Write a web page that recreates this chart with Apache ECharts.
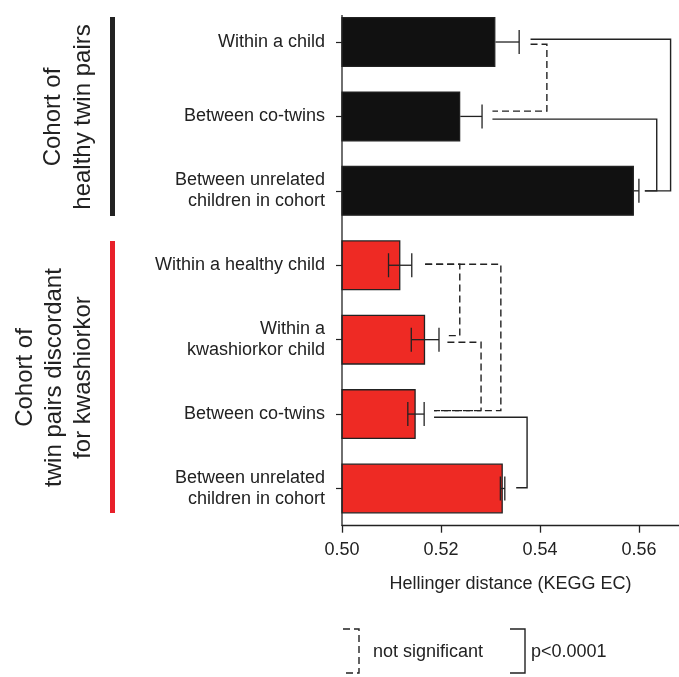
<!DOCTYPE html>
<html><head><meta charset="utf-8">
<script src="https://cdn.jsdelivr.net/npm/echarts@6/dist/echarts.min.js"></script>
<style>html,body{margin:0;padding:0;background:#fff}#c{width:679px;height:677px}</style>
</head><body><div id="c"></div>
<script>
// ---- data ----
const categories = ['Within a child', 'Between co-twins', 'Between unrelated\nchildren in cohort',
  'Within a healthy child', 'Within a\nkwashiorkor child', 'Between co-twins', 'Between unrelated\nchildren in cohort'];
const cohort = ['healthy', 'healthy', 'healthy', 'kwashiorkor', 'kwashiorkor', 'kwashiorkor', 'kwashiorkor'];
const means   = [0.5310, 0.5239, 0.5590, 0.5118, 0.5168, 0.5149, 0.5325];
const errLow  = [0.5262, 0.5195, 0.5580, 0.5094, 0.5140, 0.5133, 0.5320];
const errHigh = [0.5358, 0.5283, 0.5600, 0.5141, 0.5196, 0.5166, 0.5329];
const xTicks = [0.50, 0.52, 0.54, 0.56];
const xMin = 0.50, xMax = 0.5681;
const xTitle = 'Hellinger distance (KEGG EC)';
// significance brackets (category indices and x values)
const bracketFrom  = [0, 1, 0, 3, 3, 4, 5];
const bracketTo    = [2, 2, 1, 4, 5, 5, 6];
const bracketStart = [0.5381, 0.5304, 0.5381, 0.5168, 0.5168, 0.5213, 0.5186];
const bracketTurn  = [0.5664, 0.5636, 0.5414, 0.5238, 0.5321, 0.5281, 0.5374];
const bracketEnd   = [0.5612, 0.5612, 0.5304, 0.5213, 0.5186, 0.5186, 0.5352];
const bracketSignificant = [true, true, false, false, false, false, true];
const groupTitles = { healthy: 'Cohort of\nhealthy twin pairs', kwashiorkor: 'Cohort of\ntwin pairs discordant\nfor kwashiorkor' };
const legendTexts = ['not significant', 'p<0.0001'];

// ---- style ----
const FONT = '"Liberation Sans", Arial, Helvetica, sans-serif';
const INK = '#222';
const COLORS = { healthy: '#111111', kwashiorkor: '#EE2A24' };
const BAR_COLORS = { healthy: '#222222', kwashiorkor: '#E8202A' };
const ONE_SIDED = { healthy: true, kwashiorkor: false };
const BRACKET_DY = [[-2.7, 0], [2.7, 0], [2.3, -5.3], [-1, -4], [-1, -3.5], [2.6, -3.5], [3.1, -0.8]];
const DASH = [7, 4];

const chart = echarts.init(document.getElementById('c'), null, { renderer: 'canvas' });

const barData = means.map((v, i) => ({ value: v, itemStyle: { color: COLORS[cohort[i]] } }));
const errData = means.map((v, i) => [i, errLow[i], errHigh[i], v, ONE_SIDED[cohort[i]] ? 1 : 0]);
const brData = bracketFrom.map((f, i) => [f, bracketTo[i], bracketStart[i], bracketTurn[i], bracketEnd[i], bracketSignificant[i] ? 1 : 0, i]);

const option = {
  animation: false,
  backgroundColor: '#fff',
  textStyle: { fontFamily: FONT },
  grid: { left: 342, right: 0, top: 4.8, bottom: 151.3, containLabel: false },
  xAxis: {
    type: 'value', min: xMin, max: xMax, interval: 0.02,
    axisLine: { show: true, lineStyle: { color: INK, width: 1.3 } },
    axisTick: { show: true, length: 7, customValues: xTicks, lineStyle: { color: INK, width: 1.3 } },
    axisLabel: { fontSize: 18, color: INK, margin: 15, fontFamily: FONT, customValues: xTicks,
      formatter: v => v.toFixed(2) },
    splitLine: { show: false },
    name: xTitle, nameLocation: 'middle', nameGap: 49,
    nameTextStyle: { fontSize: 18, color: INK, fontFamily: FONT }
  },
  yAxis: {
    type: 'category', data: categories, inverse: true,
    axisLine: { show: false },
    axisTick: { show: true, alignWithLabel: true, length: 6, lineStyle: { color: INK, width: 1.2 } },
    axisLabel: { fontSize: 18, lineHeight: 21, color: INK, margin: 17, fontFamily: FONT },
    splitLine: { show: false }
  },
  series: [
    {
      type: 'bar', data: barData, barWidth: 50,
      itemStyle: { borderColor: INK, borderWidth: 1.3 }, z: 2
    },
    {
      type: 'custom', data: errData, encode: { x: [1, 2, 3], y: 0 }, z: 5, clip: false,
      renderItem: function (params, api) {
        const idx = api.value(0);
        const oneSided = api.value(4) === 1;
        const pm = api.coord([api.value(3), idx]);
        const p1 = api.coord([api.value(1), idx]);
        const p2 = api.coord([api.value(2), idx]);
        const h = 12;
        const st = { stroke: INK, lineWidth: 1.3, fill: null };
        const start = oneSided ? pm : p1;
        const children = [
          { type: 'line', shape: { x1: start[0], y1: start[1], x2: p2[0], y2: p2[1] }, style: st },
          { type: 'line', shape: { x1: p2[0], y1: p2[1] - h, x2: p2[0], y2: p2[1] + h }, style: st }
        ];
        if (!oneSided) children.push({ type: 'line', shape: { x1: p1[0], y1: p1[1] - h, x2: p1[0], y2: p1[1] + h }, style: st });
        return { type: 'group', children: children };
      }
    },
    {
      type: 'custom', data: brData, encode: { x: [2, 3, 4], y: 0 }, z: 6, clip: false,
      renderItem: function (params, api) {
        const f = api.value(0), t = api.value(1), k = api.value(6);
        const dy = BRACKET_DY[k];
        const a = api.coord([api.value(2), f]);
        const b = api.coord([api.value(3), f]);
        const c = api.coord([api.value(3), t]);
        const d = api.coord([api.value(4), t]);
        const y1 = a[1] + dy[0], y2 = c[1] + dy[1];
        const sig = api.value(5) === 1;
        return {
          type: 'polyline',
          shape: { points: [[a[0], y1], [b[0], y1], [c[0], y2], [d[0], y2]] },
          style: { stroke: INK, lineWidth: 1.4, fill: null, lineDash: sig ? null : DASH }
        };
      }
    }
  ],
  graphic: [
    // y axis line
    { type: 'line', shape: { x1: 342, y1: 15, x2: 342, y2: 525.7 }, style: { stroke: INK, lineWidth: 1.3 }, z: 10 },
    // cohort bars
    { type: 'rect', shape: { x: 110, y: 17, width: 5, height: 199 }, style: { fill: BAR_COLORS.healthy } },
    { type: 'rect', shape: { x: 110, y: 241, width: 5, height: 272 }, style: { fill: BAR_COLORS.kwashiorkor } },
    // cohort titles
    { type: 'text', x: 68, y: 117, rotation: Math.PI / 2,
      style: { text: groupTitles.healthy, fontSize: 24, lineHeight: 30, fill: INK, fontFamily: FONT, align: 'center', verticalAlign: 'middle' } },
    { type: 'text', x: 54, y: 377.5, rotation: Math.PI / 2,
      style: { text: groupTitles.kwashiorkor, fontSize: 24, lineHeight: 29, fill: INK, fontFamily: FONT, align: 'center', verticalAlign: 'middle' } },
    // legend
    { type: 'polyline', shape: { points: [[343, 629], [359, 629], [359, 673], [343, 673]] },
      style: { stroke: INK, lineWidth: 1.4, fill: null, lineDash: DASH } },
    { type: 'text', x: 373, y: 652,
      style: { text: legendTexts[0], fontSize: 18, fill: INK, fontFamily: FONT, align: 'left', verticalAlign: 'middle' } },
    { type: 'polyline', shape: { points: [[510, 629], [525, 629], [525, 673], [510, 673]] },
      style: { stroke: INK, lineWidth: 1.4, fill: null } },
    { type: 'text', x: 531, y: 652,
      style: { text: legendTexts[1], fontSize: 18, fill: INK, fontFamily: FONT, align: 'left', verticalAlign: 'middle' } }
  ]
};
chart.setOption(option);
</script>
</body></html>
